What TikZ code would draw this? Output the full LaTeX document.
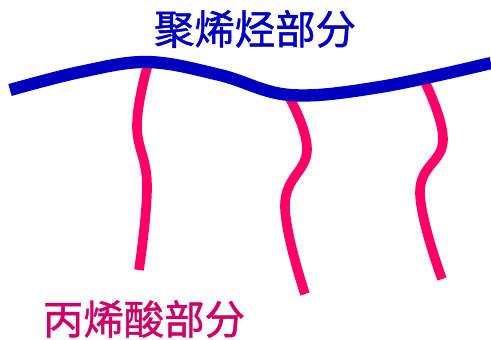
\documentclass[tikz,border=0pt]{standalone}
\usepackage{fontspec}
\newfontfamily\cjk[FakeBold=1.2]{Noto Sans CJK SC}
\definecolor{pebl}{HTML}{0000C0}
\definecolor{aapk}{HTML}{FF0066}
\definecolor{aatx}{HTML}{CC0066}
\begin{document}
\begin{tikzpicture}[x=0.02cm, y=-0.02cm]
    \useasboundingbox (0,0) rectangle (491,339);

    \node[text=pebl, font=\cjk\fontsize{23}{23}\selectfont](pe) at (255,29){聚烯烃部分};
    \node[text=aatx, font=\cjk\fontsize{23}{23}\selectfont](aa) at (144,319){丙烯酸部分};

    \draw[aapk, line width=5.5pt] plot[smooth, tension=0.7] coordinates {(148,64) (137,125) (147,185) (139,270)};
    \draw[aapk, line width=5.5pt] plot[smooth, tension=0.7] coordinates {(288,95) (307,150) (285,205) (305,294)};
    \draw[aapk, line width=5.5pt] plot[smooth, tension=0.7] coordinates {(423,78) (443,140) (420,192) (442,279)};

    \draw[pebl, line width=7pt] plot[smooth, tension=0.6] coordinates {(10,90) (80,72) (148,62) (220,75) (290,95) (380,87) (491,63)};
  \end{tikzpicture}
\end{document}
